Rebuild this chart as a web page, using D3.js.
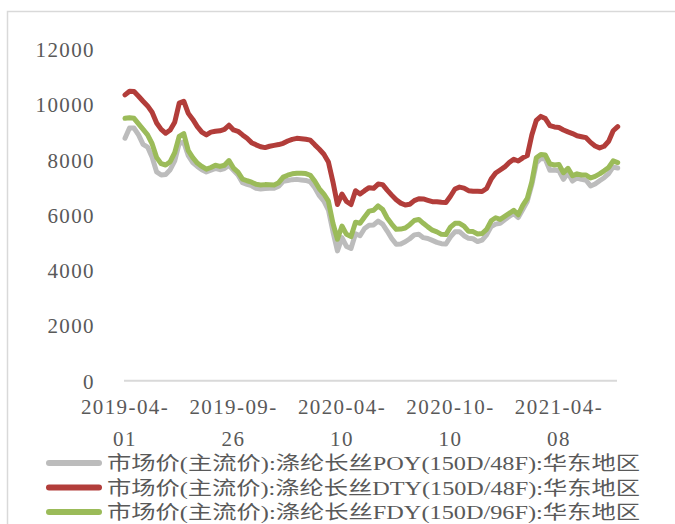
<!DOCTYPE html>
<html>
<head>
<meta charset="utf-8">
<script src="https://cdn.jsdelivr.net/npm/d3@7"></script>
<style>
  body { margin: 0; background: #fff; }
  svg { display: block; }
  text { fill: #595959; font-family: "Liberation Serif", "Noto Sans CJK SC", serif; }
</style>
</head>
<body>
<div id="chart"></div>
<script>
// Weekly samples (every 5 trading days) starting 2019-04-01
const poy = [8780, 9150, 9150, 8900, 8560, 8460, 8090, 7560, 7450, 7470,
  7640, 7960, 8600, 8640, 8150, 7900, 7760, 7640, 7560, 7620,
  7690, 7640, 7680, 7800, 7620, 7450, 7170, 7110, 7060, 6966,
  6945, 6960, 6966, 6966, 7040, 7220, 7250, 7280, 7290, 7270,
  7250, 7200, 6990, 6700, 6500, 6180, 5400, 4700, 5180, 4860,
  4790, 5320, 5250, 5510, 5630, 5640, 5780, 5670, 5420, 5150,
  4940, 4950, 5030, 5140, 5280, 5300, 5180, 5150, 5080, 5010,
  4960, 4950, 5210, 5390, 5395, 5250, 5156, 5140, 5040, 5090,
  5280, 5580, 5670, 5700, 5830, 5950, 6050, 5910, 6200, 6500,
  7100, 7880, 8050, 8020, 7620, 7630, 7600, 7290, 7530, 7230,
  7340, 7290, 7260, 7050, 7120, 7240, 7350, 7500, 7740, 7700];

const dty = [10350, 10480, 10470, 10300, 10120, 9950, 9720, 9330, 9100, 8960,
  9080, 9360, 10050, 10120, 9680, 9460, 9200, 9000, 8900, 9000,
  9030, 9050, 9100, 9250, 9080, 9030, 8900, 8780, 8620, 8540,
  8470, 8440, 8490, 8520, 8550, 8595, 8680, 8740, 8776, 8760,
  8740, 8710, 8540, 8380, 8200, 7920, 7200, 6380, 6760, 6490,
  6380, 6880, 6760, 6880, 6990, 6966, 7120, 7100, 6900, 6720,
  6550, 6430, 6362, 6387, 6520, 6590, 6580, 6530, 6482, 6482,
  6460, 6450, 6680, 6940, 7010, 6975, 6880, 6860, 6860, 6850,
  6960, 7300, 7520, 7630, 7740, 7900, 8020, 7956, 8070, 8150,
  8900, 9430, 9570, 9490, 9240, 9190, 9170, 9080, 9010, 8950,
  8870, 8836, 8800, 8630, 8500, 8430, 8490, 8670, 9050, 9200];

const fdy = [9500, 9520, 9500, 9300, 9100, 8900, 8580, 8080, 7860, 7810,
  7930, 8260, 8850, 8950, 8330, 8080, 7880, 7760, 7660, 7720,
  7800, 7760, 7800, 7970, 7700, 7550, 7300, 7240, 7190, 7111,
  7090, 7100, 7095, 7090, 7170, 7370, 7440, 7490, 7510, 7510,
  7500, 7440, 7220, 6950, 6760, 6500, 5700, 5120, 5600, 5300,
  5220, 5740, 5700, 5930, 6140, 6170, 6330, 6200, 5890, 5670,
  5480, 5490, 5530, 5650, 5800, 5840, 5700, 5570, 5450, 5390,
  5300, 5290, 5560, 5700, 5700, 5600, 5410, 5400, 5310, 5330,
  5480, 5790, 5900, 5840, 5950, 6060, 6170, 6010, 6350, 6600,
  7200, 8070, 8190, 8170, 7850, 7810, 7830, 7530, 7690, 7420,
  7490, 7450, 7450, 7340, 7400, 7490, 7600, 7720, 7960, 7900];

const tickIndex = [0, 24, 48, 72, 96];
const tickLabels = ['2019-04-01', '2019-09-26', '2020-04-10', '2020-10-10', '2021-04-08'];
const yTicks = [0, 2000, 4000, 6000, 8000, 10000, 12000];

const seriesNames = [
  '市场价(主流价):涤纶长丝POY(150D/48F):华东地区',
  '市场价(主流价):涤纶长丝DTY(150D/48F):华东地区',
  '市场价(主流价):涤纶长丝FDY(150D/96F):华东地区'
];
const seriesColors = ['#bcbcbc', '#b23d3a', '#9bbb59'];
const seriesData = [poy, dty, fdy];

const width = 675;
const height = 524;

const svg = d3.select('#chart').append('svg')
    .attr('width', width)
    .attr('height', height);

// chart frame (only the top / left edges show in the crop)
svg.append('path')
    .attr('d', `M7.5,${height} V11.5 H${width}`)
    .attr('fill', 'none')
    .attr('stroke', '#d9d9d9')
    .attr('stroke-width', 1.5);

const xScale = d3.scaleLinear()
    .domain([0, poy.length - 1])
    .range([125, 617.7]);
const yScale = d3.scaleLinear()
    .domain([0, 12000])
    .range([380.7, 49.3]);

// y axis labels
const yAxis = d3.axisLeft(yScale)
    .tickValues(yTicks)
    .tickFormat(d3.format('d'))
    .tickSize(0)
    .tickPadding(0);
const yAxisG = svg.append('g')
    .attr('class', 'y axis')
    .attr('transform', 'translate(95,0)')
    .call(yAxis);
yAxisG.select('.domain').remove();
yAxisG.selectAll('text')
    .attr('font-size', 21)
    .attr('letter-spacing', 1.4)
    .attr('dy', '0.35em')
    .style('font-family', '"Liberation Serif", serif')
    .style('fill', '#595959');

// x axis line
svg.append('line')
    .attr('x1', 124)
    .attr('x2', 617)
    .attr('y1', yScale(0))
    .attr('y2', yScale(0))
    .attr('stroke', '#d9d9d9')
    .attr('stroke-width', 2);

// x labels, split in two lines like the source
const xLab = svg.append('g').attr('class', 'x axis')
  .selectAll('text')
  .data(tickIndex)
  .enter().append('text')
    .attr('text-anchor', 'middle')
    .attr('font-size', 21)
    .attr('letter-spacing', 1.4)
    .attr('x', (d) => xScale(d))
    .attr('y', 414);
xLab.append('tspan')
    .text((d, i) => tickLabels[i].slice(0, 8));
xLab.append('tspan')
    .attr('x', (d) => xScale(d))
    .attr('dy', 32)
    .text((d, i) => tickLabels[i].slice(8));

// lines
const line = d3.line()
    .x((d, i) => xScale(i))
    .y((d) => yScale(d));

svg.append('g').selectAll('path.line')
  .data(seriesData)
  .enter().append('path')
    .attr('class', 'line')
    .attr('d', line)
    .attr('fill', 'none')
    .attr('stroke', (d, i) => seriesColors[i])
    .attr('stroke-width', 5)
    .attr('stroke-linejoin', 'round')
    .attr('stroke-linecap', 'round');

// legend
const legend = svg.append('g').attr('class', 'legend')
  .selectAll('g')
  .data(seriesNames)
  .enter().append('g')
    .attr('transform', (d, i) => `translate(0, ${463 + i * 24.5})`);

legend.append('line')
    .attr('x1', 49)
    .attr('x2', 99)
    .attr('stroke', (d, i) => seriesColors[i])
    .attr('stroke-width', 6)
    .attr('stroke-linecap', 'round');

legend.append('text')
    .attr('x', 107)
    .attr('y', 7)
    .attr('font-size', 19)
    .attr('textLength', 533)
    .attr('lengthAdjust', 'spacingAndGlyphs')
    .text((d) => d);
</script>
</body>
</html>
